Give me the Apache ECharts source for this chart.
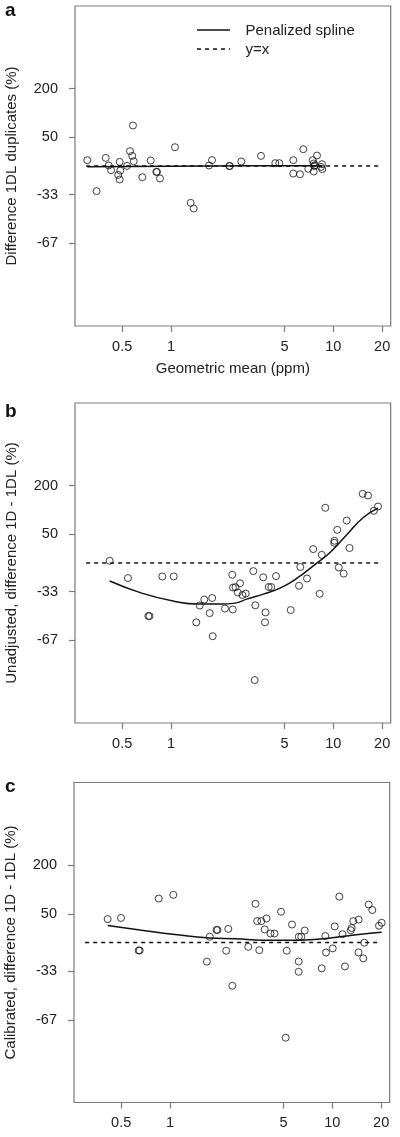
<!DOCTYPE html>
<html><head><meta charset="utf-8">
<script src="https://cdn.jsdelivr.net/npm/echarts@6/dist/echarts.min.js"></script>
<style>html,body{margin:0;padding:0;background:#fff}#c{width:400px;height:1137px}</style>
</head><body><div id="c"></div>
<script>
// ---- tick labels / texts ----
const xTickValues = [0.5, 1, 5, 10, 20];
const xTickLabels = ['0.5', '1', '5', '10', '20'];
const yTickRatios = [3, 1.5, 2 / 3, 1 / 3];
const yTickLabels = ['200', '50', '-33', '-67'];
const refLineX = [0.3, 20];
const refLineY = [0, 0];
const panelLetters = ['a', 'b', 'c'];
const yTitles = ['Difference 1DL duplicates (%)', 'Unadjusted, difference 1D - 1DL (%)', 'Calibrated, difference 1D - 1DL (%)'];
const xTitle = 'Geometric mean (ppm)';
const legendNames = ['Penalized spline', 'y=x'];

// ---- panel a: duplicates (x ppm, y % difference) ----
const dupPoints = [[0.305, 8.6], [0.348, -30], [0.396, 12.2], [0.413, 0.7], [0.427, -5.8], [0.483, 6.0], [0.473, -11.9], [0.483, -17.4], [0.487, -6.2], [0.536, 0.1], [0.559, 23.4], [0.577, 15.4], [0.589, 7.0], [0.583, 77.6], [0.666, -14.7], [0.750, 8.1], [0.812, -8.0], [0.820, -8.0], [0.855, -16.2], [1.058, 30.6], [1.322, -40.7], [1.380, -45.3], [1.714, 0.7], [1.789, 8.6], [2.287, 0], [2.300, 0], [2.712, 6.6], [3.585, 15.4], [4.391, 4.1], [4.649, 4.1], [5.668, 8.6], [5.668, -10.1], [6.233, -11.0], [6.534, 26.9], [7.014, -4.0], [7.466, 8.6], [7.573, 3.6], [7.638, 0], [7.573, -7.5], [7.935, 16.0], [8.52, 2.6], [8.555, -4.4], [8.401, -1.3], [7.70, 1.0]];
const dupSpline = [[0.305, -1.2], [1, -0.5], [3, 0.2], [8.555, 0.5]];

// ---- panel b: unadjusted ----
const unadjPoints = [[0.419, 3.2], [0.543, -19.2], [0.725, -52.9], [0.737, -52.9], [0.884, -17.4], [1.039, -17.4], [1.432, -56.9], [1.504, -45.3], [1.604, -40.5], [1.794, -39.1], [1.731, -50.9], [1.807, -64.6], [2.151, -47.6], [2.400, -48.3], [2.386, -15.4], [2.410, -29.4], [2.497, -29.0], [2.662, -25.0], [2.580, -34.2], [2.757, -36.5], [2.886, -35.2], [3.215, -10.9], [3.307, -45.1], [3.279, -81.0], [3.699, -18.4], [3.822, -50.4], [3.795, -56.9], [3.999, -28.9], [4.150, -28.9], [4.437, -17.0], [5.465, -48.7], [6.148, -27.6], [6.262, -5.5], [6.887, -19.7], [7.518, 21.8], [8.248, -35.4], [8.485, 12.3], [8.928, 118.8], [10.13, 33.2], [10.16, 37.0], [10.58, 60.1], [10.81, -6.2], [11.59, -14.0], [12.10, 82.7], [12.59, 23.7], [15.18, 166.9], [16.36, 160.5], [17.77, 109.7], [18.86, 122.9]];
const unadjSpline = [[0.419, -22.6], [0.660, -34.8], [1.058, -42.1], [1.473, -44.2], [2.054, -44.2], [2.480, -43.4], [2.927, -40.1], [3.705, -35.7], [4.694, -30.0], [5.950, -19.7], [7.531, -3.9], [9.543, 16.1], [12.10, 49.2], [15.31, 90.7], [18.86, 118]];

// ---- panel c: calibrated ----
const calPoints = [[0.413, 39.4], [0.499, 41.6], [0.641, -10.7], [0.651, -10.7], [0.852, 86.6], [1.048, 96.6], [1.686, -23.8], [1.757, 8.5], [1.934, 19.5], [1.962, 19.5], [2.287, 21.2], [2.220, -11.0], [2.420, -45.9], [3.033, -6.0], [3.364, 73.1], [3.446, 35.5], [3.652, 35.5], [3.550, -10.3], [3.931, 40.6], [3.832, 20.4], [4.161, 13.6], [4.404, 13.6], [4.830, 54.6], [5.236, -11.0], [5.163, -74.1], [5.645, 29.0], [6.218, 8.5], [6.442, 8.5], [6.760, 18.5], [6.205, -23.6], [6.205, -34.0], [8.604, -30.7], [9.055, 9.6], [9.146, -13.2], [10.06, -8.0], [10.35, 25.6], [11.04, 91.7], [11.56, 12.5], [11.97, -28.8], [12.99, 19.0], [13.17, 22.8], [13.47, 35.5], [14.54, 38.4], [14.50, -13.1], [15.52, -20.1], [15.75, -0.3], [16.76, 71.4], [17.64, 58.6], [19.40, 26.8], [20.16, 32.3]];
const calSpline = [[0.413, 27.2], [0.669, 19.0], [1.073, 12.0], [1.757, 6.7], [2.515, 5.5], [3.757, 3.3], [6.035, 3.3], [8.401, 5.2], [12.27, 9.8], [15.52, 12.9], [20.16, 15.7]];

// ---- scales ----
const lx = v => Math.log10(v);
const ly = p => Math.log(1 + p / 100);
const tr = arr => arr.map(d => [lx(d[0]), ly(d[1])]);

const FONT = 'Liberation Sans, Arial, Helvetica, sans-serif';
const AXC = '#7a7a7a';
const xCustom = xTickValues.map(lx);
const yCustom = yTickRatios.map(r => Math.log(r));
const nearest = (arr, v) => { let b = 0; arr.forEach((a, i) => { if (Math.abs(a - v) < Math.abs(arr[b] - v)) b = i; }); return b; };

const grids = [
  { left: 75, top: 6, width: 315.7, height: 320 },
  { left: 75, top: 403, width: 315.7, height: 320 },
  { left: 74, top: 782.5, width: 315.7, height: 320 }
];
const panels = [[dupPoints, dupSpline], [unadjPoints, unadjSpline], [calPoints, calSpline]];
const letterTops = [1, 402, 777];

const graphics = panelLetters.map((l, i) => ({
  type: 'text', left: 5, top: letterTops[i],
  style: { text: l, font: 'bold 19px ' + FONT, fill: '#111' }
}));
// legend (panel a)
graphics.push({ type: 'line', shape: { x1: 197, y1: 30, x2: 230, y2: 30 }, style: { stroke: '#111', lineWidth: 1.5 } });
graphics.push({ type: 'line', shape: { x1: 197, y1: 49, x2: 230, y2: 49 }, style: { stroke: '#111', lineWidth: 1.5, lineDash: [4, 4] } });
legendNames.forEach((n, k) => graphics.push({
  type: 'text', left: 245.5, top: 30 + 19 * k - 6.5,
  style: { text: n, font: '15px ' + FONT, fill: '#222' }
}));

const option = {
  animation: false,
  backgroundColor: '#fff',
  textStyle: { fontFamily: FONT },
  grid: grids.map(g => Object.assign({ show: true, borderColor: AXC, borderWidth: 1.2, backgroundColor: 'transparent', containLabel: false, outerBoundsMode: 'none' }, g)),
  xAxis: grids.map((g, i) => ({
    type: 'value', gridIndex: i, min: -0.5915, max: 1.3537, position: 'bottom',
    axisLine: { show: false, onZero: false },
    splitLine: { show: false },
    axisTick: { show: true, length: 6, customValues: xCustom, lineStyle: { color: AXC, width: 1.2 } },
    axisLabel: { show: true, customValues: xCustom, margin: 13, fontSize: 14.5, color: '#222', fontFamily: FONT,
      formatter: v => xTickLabels[nearest(xCustom, v)] },
    name: i === 0 ? xTitle : '', nameLocation: 'middle', nameGap: 35,
    nameTextStyle: { fontSize: 15, color: '#222', fontFamily: FONT }
  })),
  yAxis: grids.map((g, i) => ({
    type: 'value', gridIndex: i, min: -2.27, max: 2.27, position: 'left',
    axisLine: { show: false, onZero: false },
    splitLine: { show: false },
    axisTick: { show: true, length: 6, customValues: yCustom, lineStyle: { color: AXC, width: 1.2 } },
    axisLabel: { show: true, customValues: yCustom, margin: 17, fontSize: 14.5, color: '#222', fontFamily: FONT,
      formatter: v => yTickLabels[nearest(yCustom, v)] },
    name: yTitles[i], nameLocation: 'middle', nameGap: 56,
    nameTextStyle: { fontSize: 15, color: '#222', fontFamily: FONT }
  })),
  graphic: graphics,
  series: []
};

panels.forEach((p, i) => {
  option.series.push({
    type: 'line', name: legendNames[1], xAxisIndex: i, yAxisIndex: i,
    data: refLineX.map((x, k) => [lx(x), ly(refLineY[k])]), symbol: 'none', silent: true,
    lineStyle: { color: '#111', width: 1.5, type: [4, 4] }
  });
  option.series.push({
    type: 'line', name: legendNames[0], xAxisIndex: i, yAxisIndex: i,
    data: tr(p[1]), symbol: 'none', smooth: true, silent: true,
    lineStyle: { color: '#111', width: 1.5 }
  });
  option.series.push({
    type: 'scatter', name: 'points' + i, xAxisIndex: i, yAxisIndex: i,
    data: tr(p[0]), symbol: 'circle', symbolSize: 7, silent: true,
    itemStyle: { color: 'rgba(255,255,255,0)', borderColor: '#111', borderWidth: 1 }
  });
});

const chart = echarts.init(document.getElementById('c'), null, { renderer: 'canvas' });
chart.setOption(option);
</script></body></html>
